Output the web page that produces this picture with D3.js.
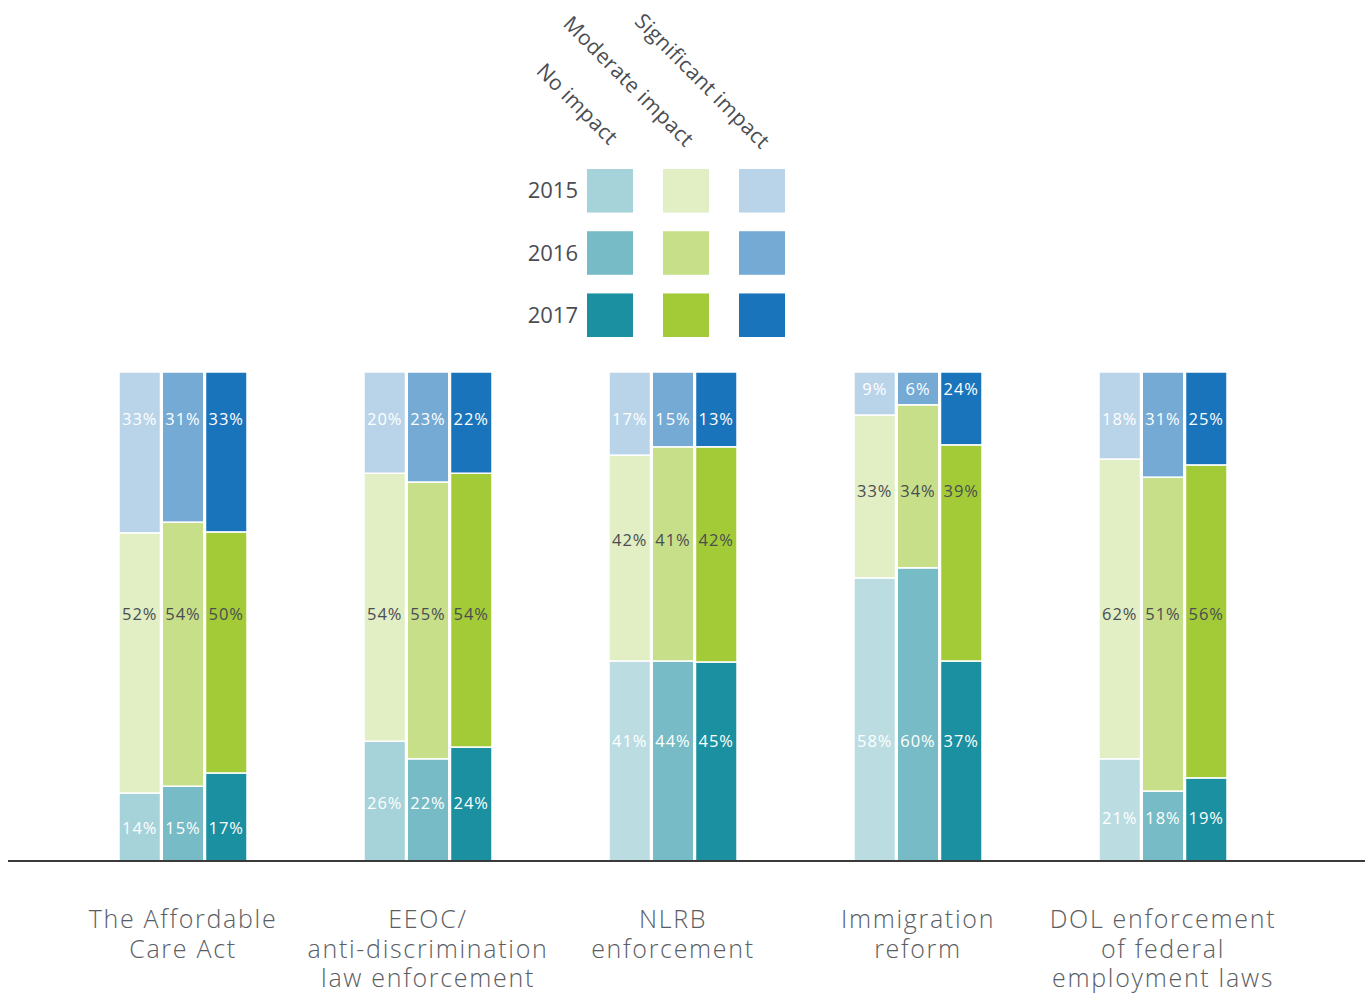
<!DOCTYPE html>
<html>
<head>
<meta charset="utf-8">
<script src="https://cdn.jsdelivr.net/npm/d3@7"></script>
<style>
  body { margin: 0; background: #fff; }
  svg { display: block; font-family: "Open Sans", "Lato", sans-serif; }
</style>
</head>
<body>
<div id="chart"></div>
<script>
// categories and series
var categories = [
  "The Affordable\nCare Act",
  "EEOC/\nanti-discrimination\nlaw enforcement",
  "NLRB\nenforcement",
  "Immigration\nreform",
  "DOL enforcement\nof federal\nemployment laws"
];
var years = ["2015", "2016", "2017"];
var impacts = ["No impact", "Moderate impact", "Significant impact"];

// printed percentages per category, per year
var noImpact = [
  [14, 15, 17],
  [26, 22, 24],
  [41, 44, 45],
  [58, 60, 37],
  [21, 18, 19]
];
var moderateImpact = [
  [52, 54, 50],
  [54, 55, 54],
  [42, 41, 42],
  [33, 34, 39],
  [62, 51, 56]
];
var significantImpact = [
  [33, 31, 33],
  [20, 23, 22],
  [17, 15, 13],
  [9, 6, 24],
  [18, 31, 25]
];

// segment sizes as drawn in the original (they don't always agree with the printed numbers)
var barNo = [
  [13.9, 15.3, 18.0],
  [24.5, 20.9, 23.3],
  [40.9, 40.9, 40.7],
  [57.9, 59.9, 40.9],
  [20.9, 14.3, 17.0]
];
var barModerate = [
  [53.2, 54.0, 49.3],
  [54.8, 56.6, 56.0],
  [42.1, 43.8, 44.0],
  [33.3, 33.3, 44.2],
  [61.3, 64.2, 64.0]
];
var barSignificant = [
  [32.9, 30.7, 32.7],
  [20.7, 22.5, 20.7],
  [17.0, 15.3, 15.3],
  [8.8, 6.7, 14.9],
  [17.8, 21.5, 19.0]
];

// where the value labels sit in each group (share of bar height: bottom, middle, top)
var labelAt = [
  [0.067, 0.505, 0.904],
  [0.119, 0.505, 0.904],
  [0.245, 0.655, 0.904],
  [0.245, 0.757, 0.965],
  [0.088, 0.505, 0.904]
];

var colors = {
  "2015": ["#a5d3d9", "#e2eec4", "#b9d4e9"],
  "2016": ["#76bbc5", "#c8df8a", "#74aad4"],
  "2017": ["#1b90a0", "#a3cb38", "#1a74bb"]
};
var pale2015 = "#bbdde2"; // lighter 2015 "no impact" used in the last three groups

var printed = [noImpact, moderateImpact, significantImpact];
var drawn = [barNo, barModerate, barSignificant];

var width = 1369, height = 993;

var svg = d3.select("#chart").append("svg")
  .attr("width", width)
  .attr("height", height);

// scales
var x0 = d3.scalePoint().domain(categories).range([183, 1163]);
var x1 = d3.scaleBand().domain(years).range([-64, 64]).paddingInner(0.04);
var y = d3.scaleLinear().domain([0, 1]).range([861, 372]);

// rows for stacking
var rows = [];
categories.forEach(function(c, i) {
  years.forEach(function(yr, j) {
    var r = { cat: c, ci: i, year: yr, yi: j };
    impacts.forEach(function(k, ki) { r[k] = drawn[ki][i][j]; });
    rows.push(r);
  });
});

var stack = d3.stack().keys(impacts).offset(d3.stackOffsetExpand);
var series = stack(rows);

var bars = svg.append("g");
series.forEach(function(s, k) {
  bars.selectAll(null)
    .data(s)
    .enter()
    .append("rect")
    .attr("x", d => x0(d.data.cat) + x1(d.data.year))
    .attr("width", x1.bandwidth())
    .attr("y", d => y(d[1]))
    .attr("height", d => y(d[0]) - y(d[1]))
    .attr("fill", d => (k === 0 && d.data.year === "2015" && d.data.ci >= 2) ? pale2015 : colors[d.data.year][k])
    .attr("stroke", "#fff")
    .attr("stroke-width", 1.5);

  bars.selectAll(null)
    .data(s)
    .enter()
    .append("text")
    .attr("x", d => x0(d.data.cat) + x1(d.data.year) + x1.bandwidth() / 2)
    .attr("y", d => y(labelAt[d.data.ci][k]))
    .attr("dy", "0.35em")
    .attr("text-anchor", "middle")
    .attr("font-size", 16.5)
    .attr("letter-spacing", 1)
    .attr("fill", k === 1 ? "#4a4d52" : "#fff")
    .text(d => printed[k][d.data.ci][d.data.yi] + "%");
});

// baseline
svg.append("line")
  .attr("x1", 8).attr("x2", 1365)
  .attr("y1", 861).attr("y2", 861)
  .attr("stroke", "#3a3a3a")
  .attr("stroke-width", 2);

// category labels
svg.append("g").selectAll("text")
  .data(categories)
  .enter()
  .append("text")
  .attr("x", d => x0(d))
  .attr("y", 928)
  .attr("text-anchor", "middle")
  .attr("font-size", 25)
  .attr("font-weight", 300)
  .attr("letter-spacing", 1.7)
  .attr("fill", "#5a5e64")
  .each(function(d) {
    var t = d3.select(this);
    d.split("\n").forEach(function(line, i) {
      t.append("tspan").attr("x", x0(d)).attr("dy", i ? 29.5 : 0).text(line);
    });
  });

// legend
var lx = d3.scaleBand().domain(impacts).range([587, 785]).paddingInner(0.395);
var ly = d3.scaleBand().domain(years).range([169, 337]).paddingInner(0.3);
var legend = svg.append("g");

years.forEach(function(yr) {
  legend.selectAll(null)
    .data(impacts)
    .enter()
    .append("rect")
    .attr("x", d => lx(d))
    .attr("y", ly(yr))
    .attr("width", lx.bandwidth())
    .attr("height", ly.bandwidth())
    .attr("fill", (d, k) => colors[yr][k]);

  legend.append("text")
    .attr("x", 578)
    .attr("y", ly(yr) + ly.bandwidth() / 2)
    .attr("dy", "0.35em")
    .attr("text-anchor", "end")
    .attr("font-size", 22)
    .attr("fill", "#4a4d52")
    .text(yr);
});

legend.selectAll(".hdr")
  .data(impacts)
  .enter()
  .append("text")
  .attr("class", "hdr")
  .attr("text-anchor", "end")
  .attr("font-size", 21)
  .attr("letter-spacing", 0.4)
  .attr("fill", "#4a4d52")
  .attr("transform", (d, k) => "translate(" + (lx(d) + 22) + "," + (146 + 2 * k) + ") rotate(45)")
  .text(d => d);
</script>
</body>
</html>
